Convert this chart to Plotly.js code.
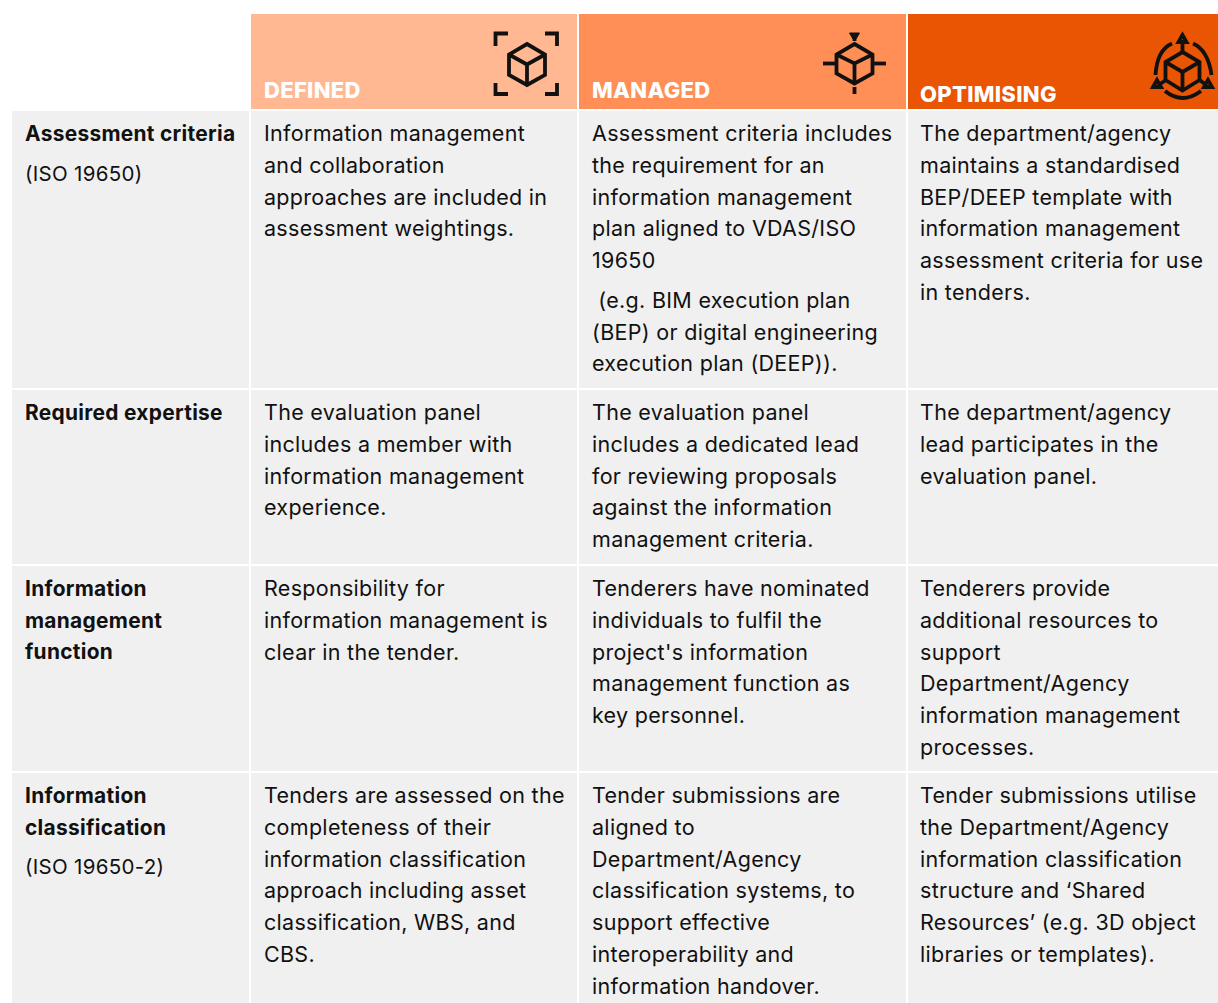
<!DOCTYPE html>
<html><head><meta charset="utf-8">
<script src="https://cdn.plot.ly/plotly-3.0.1.min.js"></script>
<style>html,body{margin:0;padding:0;background:#fff}
text.annotation-text{letter-spacing:.3px}</style></head>
<body><div id="chart" style="width:1218px;height:1003px"></div>
<script>
// ---- table content: each cell is a list of paragraphs, each paragraph a list of lines
const levels = ["DEFINED", "MANAGED", "OPTIMISING"];
const criteria = [
  [["Assessment criteria"], ["(ISO 19650)"]],
  [["Required expertise"]],
  [["Information", "management", "function"]],
  [["Information", "classification"], ["(ISO 19650-2)"]]
];
const defined = [
  [["Information management", "and collaboration", "approaches are included in", "assessment weightings."]],
  [["The evaluation panel", "includes a member with", "information management", "experience."]],
  [["Responsibility for", "information management is", "clear in the tender."]],
  [["Tenders are assessed on the", "completeness of their", "information classification", "approach including asset", "classification, WBS, and", "CBS."]]
];
const managed = [
  [["Assessment criteria includes", "the requirement for an", "information management", "plan aligned to VDAS/ISO", "19650"], [" (e.g. BIM execution plan", "(BEP) or digital engineering", "execution plan (DEEP))."]],
  [["The evaluation panel", "includes a dedicated lead", "for reviewing proposals", "against the information", "management criteria."]],
  [["Tenderers have nominated", "individuals to fulfil the", "project's information", "management function as", "key personnel."]],
  [["Tender submissions are", "aligned to", "Department/Agency", "classification systems, to", "support effective", "interoperability and", "information handover."]]
];
const optimising = [
  [["The department/agency", "maintains a standardised", "BEP/DEEP template with", "information management", "assessment criteria for use", "in tenders."]],
  [["The department/agency", "lead participates in the", "evaluation panel."]],
  [["Tenderers provide", "additional resources to", "support", "Department/Agency", "information management", "processes."]],
  [["Tender submissions utilise", "the Department/Agency", "information classification", "structure and \u2018Shared", "Resources\u2019 (e.g. 3D object", "libraries or templates)."]]
];
const columns = [criteria, defined, managed, optimising];

// ---- grid geometry and styling (page pixels)
const colEdges = [11, 250, 578, 907, 1220];
const rowEdges = [13, 110, 389, 565, 772, 1006];
const textLeft = [24, 263, 591, 919];
const fills = ["#FFFFFF", "#F0F0F0", "#FFB891", "#FF8F56", "#EA5504"];
const fillLevels = [
  [0, 2, 3, 4],
  [1, 1, 1, 1],
  [1, 1, 1, 1],
  [1, 1, 1, 1],
  [1, 1, 1, 1]
];
const bodyFont = "Inter, 'Open Sans', sans-serif";
const fontSize = 21.5, boldSize = 20.9, noteSize = 20.5, headSize = 22;
const lineStep = 31.7, paraGap = 8, firstLine = 23.3;
const ink = "#111111";

const heat = {
  type: "heatmap", x: colEdges, y: rowEdges, z: fillLevels, zmin: 0, zmax: 4,
  colorscale: fills.map((c, i) => [i / 4, c]),
  xgap: 2, ygap: 2, showscale: false, hoverinfo: "skip"
};

// ---- text
const annotations = [];
function put(txt, x, y, opts) {
  annotations.push(Object.assign({
    text: txt, x, y, xref: "x", yref: "y", xanchor: "left", yanchor: "middle",
    showarrow: false, align: "left", borderpad: 0,
    font: { family: bodyFont, size: fontSize, color: ink }
  }, opts || {}));
}
columns.forEach((col, c) => col.forEach((cell, r) => {
  let y = rowEdges[r + 1] + firstLine;
  cell.forEach((para, p) => {
    para.forEach((line) => {
      const isHead = c === 0 && (cell.length === 1 || p === 0);
      const size = isHead ? boldSize : (c === 0 ? noteSize : fontSize);
      put(isHead ? "<b>" + line + "</b>" : line.replace(/^ /, "\u00a0"), textLeft[c], y,
        { font: { family: bodyFont, size, color: ink } });
      y += lineStep;
    });
    y += paraGap;
  });
}));
const headerY = [90, 90, 94];
levels.forEach((t, i) => put(t, textLeft[i + 1], headerY[i],
  { font: { family: bodyFont, size: headSize, color: "#FFFFFF", weight: 800 } }));

// ---- icons
const iconLine = { color: ink, width: 3.8 };
function path(d, extra) {
  return Object.assign({ type: "path", xref: "x", yref: "y", path: d, line: iconLine, layer: "above" }, extra || {});
}
function poly(pts, close) {
  return "M" + pts.map(p => p.join(",")).join(" L") + (close ? " Z" : "");
}
function cube(cx, top, hw, side, cap, bottom, centerY) {
  return [
    path(poly([[cx, top], [cx + hw, top + cap], [cx + hw, top + cap + side], [cx, bottom], [cx - hw, top + cap + side], [cx - hw, top + cap]], true)),
    path(poly([[cx - hw, top + cap], [cx, centerY], [cx + hw, top + cap]])),
    path(poly([[cx, centerY], [cx, bottom]]))
  ];
}
const shapes = [];
// icon: defined
[[[495.5, 46], [495.5, 33.5], [508, 33.5]], [[545, 33.5], [557, 33.5], [557, 46]],
 [[495.5, 83], [495.5, 94], [508, 94]], [[545, 94], [557, 94], [557, 83]]]
  .forEach(b => shapes.push(path(poly(b))));
shapes.push(...cube(527, 44, 18, 20.5, 10.5, 85, 64.5));
// icon: managed
shapes.push(...cube(854.5, 44, 18, 19, 10.5, 83.5, 63.5));
[[[823, 63.5], [837, 63.5]], [[873, 63.5], [886, 63.5]], [[854.5, 34], [854.5, 41]], [[854.5, 87], [854.5, 94]]]
  .forEach(b => shapes.push(path(poly(b))));
[[823.5, 63.5], [885.5, 63.5], [854.5, 93]].forEach(p => shapes.push(path(
  `M${p[0] - 2.5},${p[1]} a2.5,2.5 0 1,0 5,0 a2.5,2.5 0 1,0 -5,0 Z`, { fillcolor: ink, line: { color: ink, width: 1 } })));
shapes.push(path("M849.5,33 L859.5,33 L856,39 L853,39 Z", { fillcolor: ink, line: { color: ink, width: 1 } }));
// icon: optimising
shapes.push(...cube(1182.5, 52, 17, 18, 10, 90.5, 72));
[[[1182.5, 43], [1182.5, 52]], [[1166, 80], [1160, 84]], [[1199.5, 80], [1205, 84]]]
  .forEach(b => shapes.push(path(poly(b))));
[[[1182.5, 35], [1178.5, 42], [1186.5, 42]], [[1157, 80], [1153, 87], [1161, 87]], [[1208, 80], [1204, 87], [1212, 87]]]
  .forEach(t => shapes.push(path(poly(t, true), { fillcolor: "#EA5504" })));
["M1172,43.5 Q1157,50 1155.5,75", "M1193,43.5 Q1208,50 1211.5,75", "M1165,91 Q1182.5,105 1201,91"]
  .forEach(d => shapes.push(path(d)));

const layout = {
  width: 1218, height: 1003, margin: { l: 0, r: 0, t: 0, b: 0 },
  paper_bgcolor: "#FFFFFF", plot_bgcolor: "#FFFFFF", showlegend: false,
  xaxis: { range: [0, 1218], visible: false, fixedrange: true },
  yaxis: { range: [1003, 0], visible: false, fixedrange: true },
  annotations, shapes
};
Plotly.newPlot("chart", [heat], layout, { displayModeBar: false, staticPlot: true });
</script></body></html>
